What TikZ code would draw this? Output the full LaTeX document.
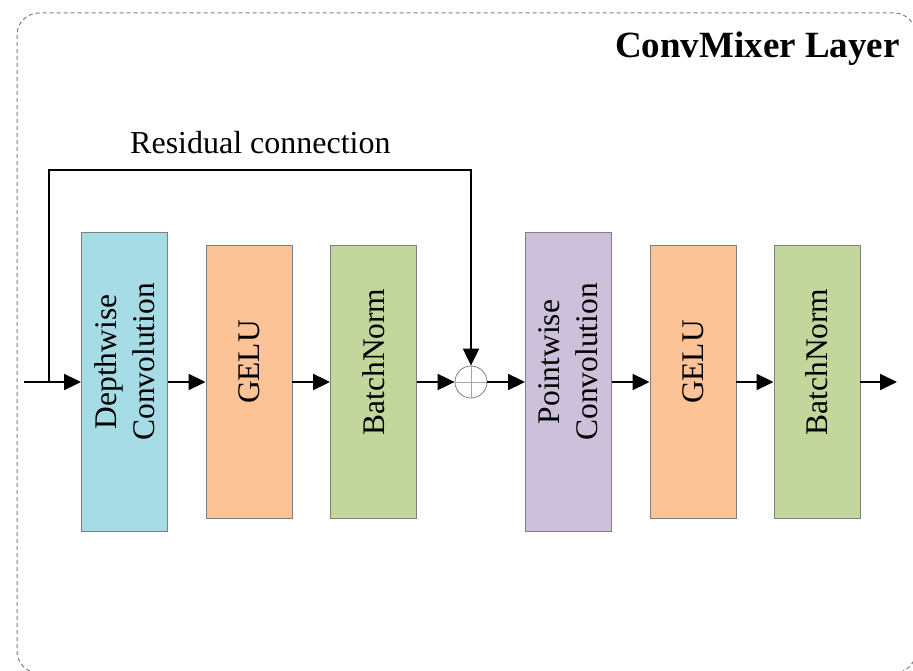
\documentclass[tikz,border=0pt]{standalone}
\usepackage{fontspec}
\setmainfont{Liberation Serif}
\usetikzlibrary{arrows.meta}

\definecolor{dwblue}{HTML}{A6DCE6}
\definecolor{gelupeach}{HTML}{FCC396}
\definecolor{bngreen}{HTML}{C3D69B}
\definecolor{pwpurple}{HTML}{CCC0DA}
\definecolor{edgegray}{HTML}{7F7F7F}

\tikzset{
  blockbox/.style={draw=edgegray, line width=0.9pt, minimum width=86pt, inner sep=0pt},
  tallbox/.style={blockbox, minimum height=299pt},
  shortbox/.style={blockbox, minimum height=273pt},
  boxlabel/.style={rotate=90, align=center, inner sep=0pt,
    font=\fontsize{31.5}{38}\selectfont},
  arr/.style={line width=2pt, -{Triangle[length=17pt,width=16pt]}},
  frameline/.style={draw=gray, line width=1pt, dash pattern=on 4pt off 3pt,
    rounded corners=22pt},
}

\begin{document}
\begin{tikzpicture}[x=1pt, y=-1pt]
  \useasboundingbox (0,0) rectangle (913,671);
  \clip (0,0) rectangle (913,671);

  % outer dashed frame of the layer
  \draw[frameline] (17,13) rectangle (916,673);

  \node[font=\bfseries\fontsize{37}{44}\selectfont, anchor=base east, inner sep=0pt]
    (title) at (900,58) {ConvMixer Layer};

  % processing blocks
  \node[tallbox,  fill=dwblue]    (dw) at (124.5,382) {};
  \node[shortbox, fill=gelupeach] (g1) at (249,382)   {};
  \node[shortbox, fill=bngreen]   (b1) at (373.5,382) {};
  \node[tallbox,  fill=pwpurple]  (pw) at (568.5,382) {};
  \node[shortbox, fill=gelupeach] (g2) at (693,382)   {};
  \node[shortbox, fill=bngreen]   (b2) at (817,382)   {};

  \node[boxlabel] (dwt) at ([yshift=20pt]dw.center) {Depthwise\\Convolution};
  \node[boxlabel] (g1t) at ([yshift=20pt]g1.center) {GELU};
  \node[boxlabel] (b1t) at ([yshift=20pt]b1.center) {BatchNorm};
  \node[boxlabel] (pwt) at ([yshift=20pt]pw.center) {Pointwise\\Convolution};
  \node[boxlabel] (g2t) at ([yshift=20pt]g2.center) {GELU};
  \node[boxlabel] (b2t) at ([yshift=20pt]b2.center) {BatchNorm};

  % summation junction
  \node[circle, draw=edgegray, line width=0.8pt, minimum size=32pt, inner sep=0pt]
    (sum) at (471,382) {};
  \draw[edgegray!70, line width=0.8pt] (sum.north) -- (sum.south)
                                       (sum.west) -- (sum.east);

  % input, output and branch points
  \coordinate (in)  at (24,382);
  \coordinate (out) at (897,382);
  \coordinate (rs)  at (49,382);
  \coordinate (rc)  at (49,170);

  % main data flow
  \draw[arr] (in) -- (dw.west);
  \draw[arr] (dw.east) -- (g1.west);
  \draw[arr] (g1.east) -- (b1.west);
  \draw[arr] (b1.east) -- (sum.west);
  \draw[arr] (sum.east) -- (pw.west);
  \draw[arr] (pw.east) -- (g2.west);
  \draw[arr] (g2.east) -- (b2.west);
  \draw[arr] (b2.east) -- (out);

  % skip path
  \draw[arr] (rs) -- (rc) -| (sum.north);
  \node[font=\fontsize{32}{38}\selectfont, anchor=base west, inner sep=0pt]
    (rlabel) at (130,154) {Residual connection};
\end{tikzpicture}
\end{document}
